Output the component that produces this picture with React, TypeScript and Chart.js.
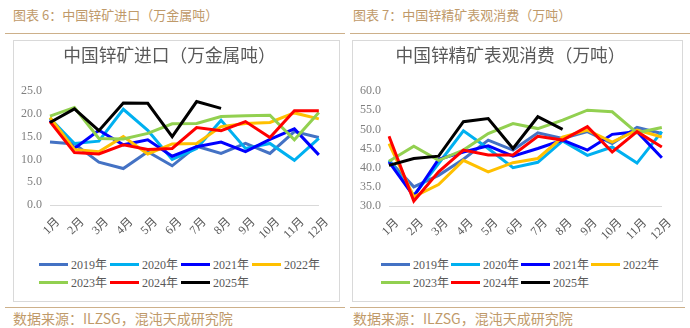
import React, { useEffect, useRef } from "react";
import { Chart, registerables } from "chart.js";

Chart.register(...registerables);

const months = ["1月", "2月", "3月", "4月", "5月", "6月", "7月", "8月", "9月", "10月", "11月", "12月"];
const years = ["2019年", "2020年", "2021年", "2022年", "2023年", "2024年", "2025年"];
const colors = ["#4472C4", "#00B0F0", "#0000FF", "#FFC000", "#92D050", "#FF0000", "#000000"];

// 图表6: 中国锌矿进口（万金属吨）
const imports2019 = [13.8, 13.4, 9.4, 8.0, 11.7, 8.6, 12.9, 11.3, 13.5, 11.3, 16.1, 14.8];
const imports2020 = [19.0, 13.5, 14.0, 21.0, 16.4, 10.0, 12.4, 18.6, 12.4, 13.5, 9.8, 14.6];
const imports2021 = [18.6, 12.4, 16.4, 13.2, 14.3, 10.7, 12.8, 13.8, 11.7, 14.4, 16.7, 11.0];
const imports2022 = [19.2, 12.2, 11.7, 15.0, 11.2, 13.4, 13.5, 17.2, 17.9, 18.1, 20.2, 18.9];
const imports2023 = [19.5, 21.4, 14.6, 14.5, 15.7, 17.8, 17.9, 19.4, 19.6, 19.7, 14.3, 20.3];
const imports2024 = [18.3, 11.5, 11.2, 13.2, 12.2, 12.4, 17.0, 16.3, 18.3, 14.8, 20.7, 20.7];
const imports2025 = [18.1, 21.1, 16.3, 22.4, 22.3, 15.0, 22.7, 21.2];

// 图表7: 中国锌精矿表观消费（万吨）
const consumption2019 = [41.9, 35.0, 38.0, 42.2, 47.2, 44.6, 49.1, 47.6, 49.4, 46.3, 50.5, 48.9];
const consumption2020 = [41.9, 32.8, 41.1, 49.6, 45.0, 40.0, 41.4, 47.0, 43.2, 45.4, 41.2, 49.4];
const consumption2021 = [41.5, 32.5, 42.2, 44.1, 45.7, 43.0, 45.0, 47.2, 44.6, 48.7, 49.4, 42.6];
const consumption2022 = [46.3, 32.4, 35.6, 41.9, 38.9, 41.3, 42.4, 48.0, 49.8, 46.7, 49.8, 48.0];
const consumption2023 = [41.7, 45.6, 41.9, 44.6, 48.9, 51.5, 50.2, 52.4, 55.0, 54.6, 49.1, 50.5];
const consumption2024 = [48.2, 31.3, 38.9, 44.6, 43.3, 43.3, 48.2, 47.2, 50.7, 44.1, 49.4, 45.4];
const consumption2025 = [40.6, 42.4, 43.0, 52.0, 52.8, 45.0, 53.3, 50.0];

const importSeries = [imports2019, imports2020, imports2021, imports2022, imports2023, imports2024, imports2025];
const consumptionSeries = [consumption2019, consumption2020, consumption2021, consumption2022, consumption2023, consumption2024, consumption2025];

const SERIF = "'Liberation Serif', 'Noto Sans CJK SC', serif";
const CJK = "'Noto Sans CJK SC', sans-serif";
const TAN = "#BF9A6A";

type ChartProps = {
  title: string;
  series: number[][];
  yMin: number;
  yMax: number;
  width: number;
  height: number;
};

function LineChart({ title, series, yMin, yMax, width, height }: ChartProps) {
  const ref = useRef<HTMLCanvasElement | null>(null);
  useEffect(() => {
    if (!ref.current) return;
    const chart = new Chart(ref.current, {
      type: "line",
      data: {
        labels: months,
        datasets: series.map((d, i) => ({
          label: years[i],
          data: d,
          borderColor: colors[i],
          backgroundColor: colors[i],
          borderWidth: 3,
          pointRadius: 0,
          tension: 0,
          fill: false,
          order: series.length - i,
        })),
      },
      options: {
        animation: false,
        responsive: false,
        maintainAspectRatio: false,
        layout: { padding: { left: 0, right: 14, top: 0, bottom: 0 } },
        plugins: {
          legend: { display: false },
          tooltip: { enabled: false },
          title: {
            display: true,
            text: title,
            color: "#595959",
            font: { family: CJK, size: 17.7, weight: "normal" },
            padding: { top: 3.5, bottom: 25.3 },
          },
        },
        scales: {
          x: {
            grid: { display: false, drawTicks: false },
            border: { display: true, color: "#D9D9D9", width: 1 },
            ticks: {
              minRotation: 45,
              maxRotation: 45,
              autoSkip: false,
              color: "#595959",
              padding: 10,
              labelOffset: 8,
              font: { family: SERIF, size: 12 },
            },
            afterFit: (s: any) => {
              s.height = 40;
            },
          },
          y: {
            min: yMin,
            max: yMax,
            grid: { display: false, drawTicks: false },
            border: { display: false },
            ticks: {
              stepSize: 5,
              color: "#7F7F7F",
              padding: 8,
              font: { family: SERIF, size: 12 },
              callback: (v: any) => Number(v).toFixed(1),
            },
            afterFit: (s: any) => {
              s.width = 36;
            },
          },
        },
      },
    });
    return () => chart.destroy();
  }, [title, series, yMin, yMax]);
  return <canvas ref={ref} width={width} height={height} style={{ display: "block", width, height }} />;
}

function Legend({ left, period }: { left: number; period: number }) {
  return (
    <div style={{ position: "absolute", left, top: 255, width: period * 4 + 4 }}>
      {[0, 1].map((row) => (
        <div key={row} style={{ display: "flex", height: 18, alignItems: "center" }}>
          {years.slice(row * 4, row * 4 + 4).map((y, j) => (
            <div key={y} style={{ width: period, display: "flex", alignItems: "center" }}>
              <div style={{ width: 29, height: 3, background: colors[row * 4 + j], marginRight: 3 }} />
              <span style={{ fontFamily: SERIF, fontSize: 12, color: "#595959", whiteSpace: "nowrap" }}>{y}</span>
            </div>
          ))}
        </div>
      ))}
    </div>
  );
}

export default function App() {
  const headerStyle: React.CSSProperties = {
    position: "absolute",
    top: 6,
    fontFamily: CJK,
    fontSize: 13,
    lineHeight: "18px",
    color: TAN,
    whiteSpace: "nowrap",
  };
  const footerStyle: React.CSSProperties = {
    position: "absolute",
    top: 309,
    fontFamily: CJK,
    fontSize: 14,
    lineHeight: "18px",
    color: TAN,
    whiteSpace: "nowrap",
  };
  return (
    <div style={{ position: "fixed", left: 0, top: 0, width: 690, height: 328, background: "#FFFFFF", overflow: "hidden" }}>
      <div style={{ ...headerStyle, left: 13 }}>图表 6：中国锌矿进口（万金属吨）</div>
      <div style={{ ...headerStyle, left: 353 }}>图表 7：中国锌精矿表观消费（万吨）</div>
      <div style={{ position: "absolute", left: 5, top: 33, width: 340, height: 1, background: "#CDB08A" }} />
      <div style={{ position: "absolute", left: 350, top: 33, width: 340, height: 1, background: "#CDB08A" }} />

      <div style={{ position: "absolute", left: 13, top: 40, width: 325, height: 260, border: "1px solid #D9D9D9", background: "#FFFFFF" }} />
      <div style={{ position: "absolute", left: 352, top: 40, width: 329, height: 260, border: "1px solid #D9D9D9", background: "#FFFFFF" }} />

      <div style={{ position: "absolute", left: 14, top: 41 }}>
        <LineChart title="中国锌矿进口（万金属吨）" series={importSeries} yMin={0} yMax={25} width={325} height={204} />
      </div>
      <div style={{ position: "absolute", left: 353, top: 41 }}>
        <LineChart title="中国锌精矿表观消费（万吨）" series={consumptionSeries} yMin={30} yMax={60} width={329} height={205} />
      </div>

      <Legend left={39} period={71} />
      <Legend left={381} period={70} />

      <div style={{ position: "absolute", left: 5, top: 307, width: 340, height: 1, background: "#CDB08A" }} />
      <div style={{ position: "absolute", left: 350, top: 307, width: 335, height: 1, background: "#CDB08A" }} />
      <div style={{ ...footerStyle, left: 13 }}>数据来源：ILZSG，混沌天成研究院</div>
      <div style={{ ...footerStyle, left: 353 }}>数据来源：ILZSG，混沌天成研究院</div>
    </div>
  );
}
